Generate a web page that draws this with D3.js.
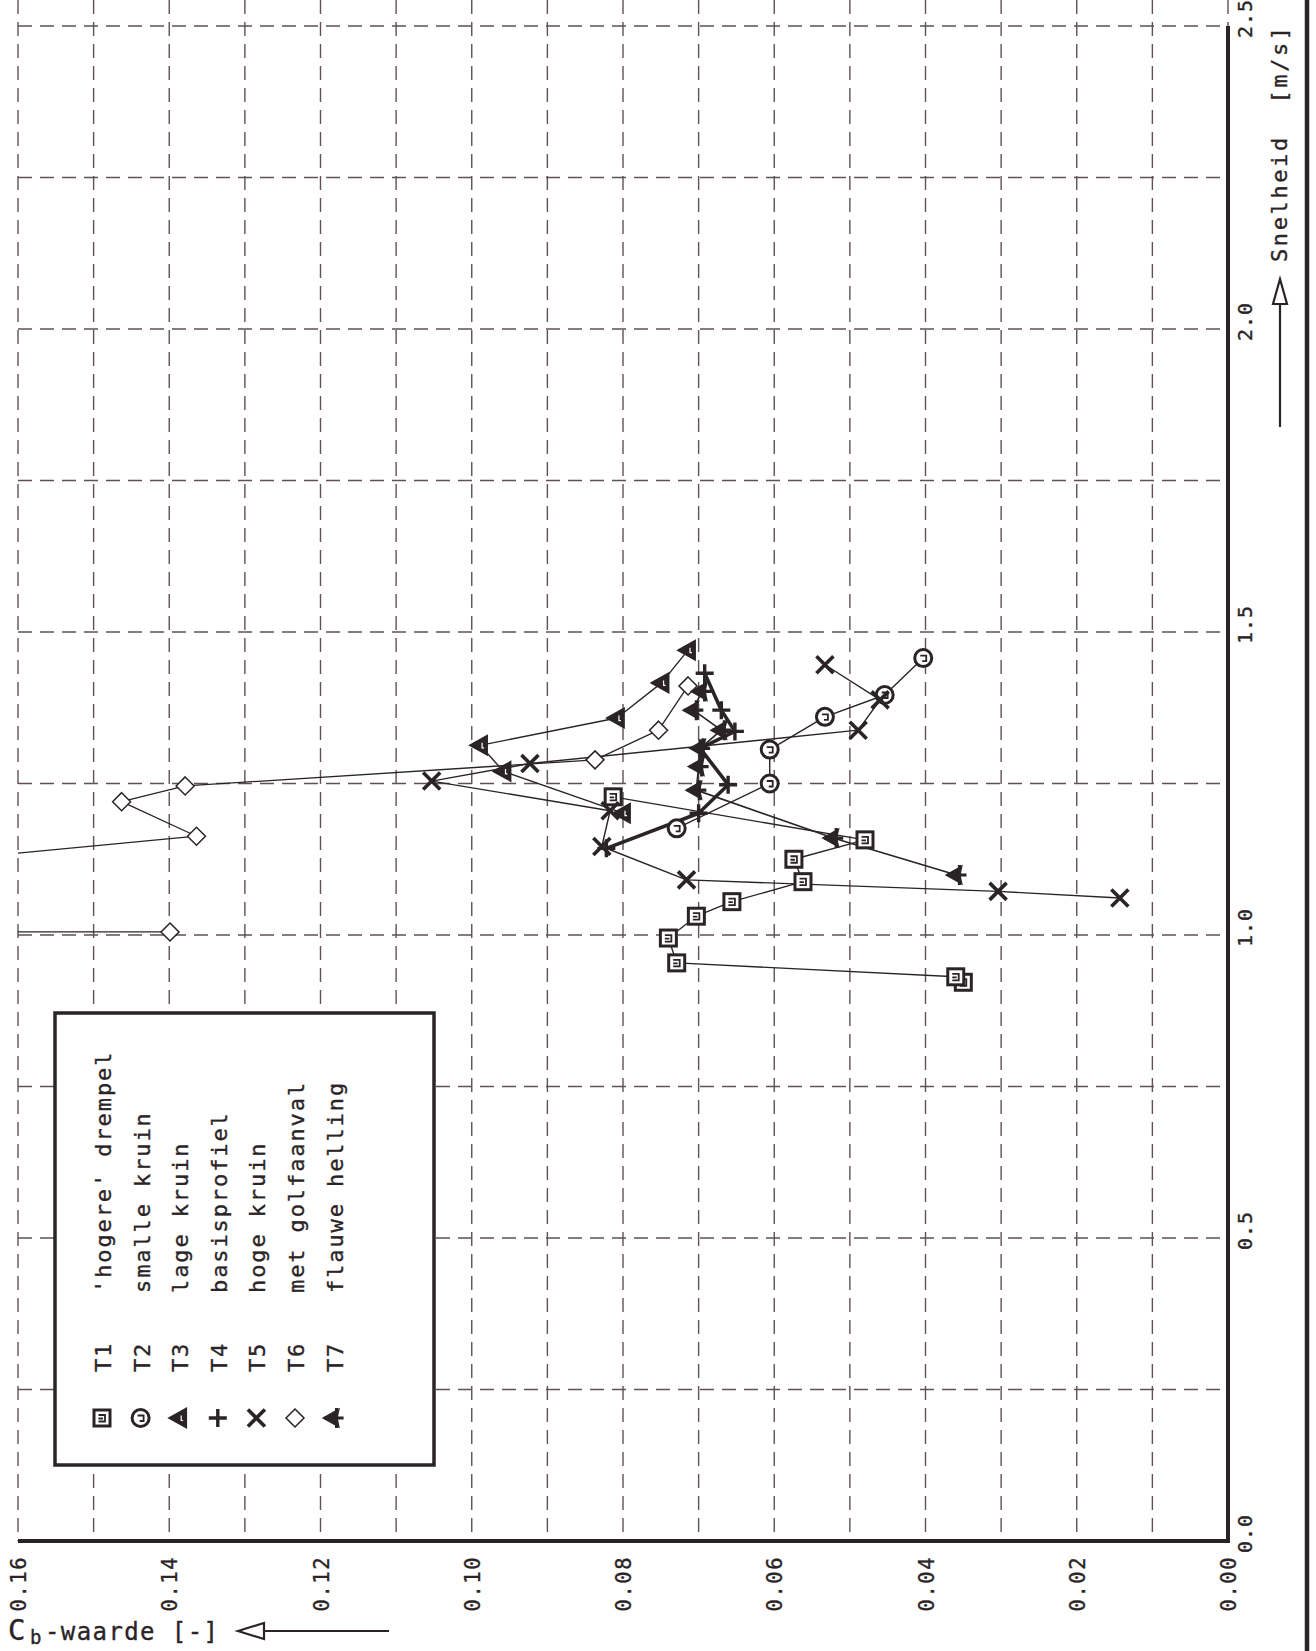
<!DOCTYPE html>
<html>
<head>
<meta charset="utf-8">
<script src="https://cdn.jsdelivr.net/npm/d3@7"></script>
<style>
  body { margin: 0; background: #fff; }
  svg { display: block; }
  text { font-family: "DejaVu Sans Mono", "Liberation Mono", monospace; fill: #2b2427;
         stroke: #2b2427; stroke-width: 0.35; }
</style>
</head>
<body>
<svg id="chart" width="1316" height="1651"></svg>
<script>
// Series identifiers and descriptions
const seriesIds = ["T1", "T2", "T3", "T4", "T5", "T6", "T7"];
const seriesLabels = ["'hogere' drempel", "smalle kruin", "lage kruin", "basisprofiel",
                      "hoge kruin", "met golfaanval", "flauwe helling"];

// Measured points per test: speed [m/s] and Cb value [-]
const t1Speed = [0.922, 0.931, 0.954, 0.995, 1.031, 1.055, 1.088, 1.125, 1.157, 1.228];
const t1Cb    = [0.0350, 0.0360, 0.0729, 0.0740, 0.0703, 0.0656, 0.0562, 0.0574, 0.0480, 0.0813];

const t2Speed = [1.176, 1.250, 1.306, 1.360, 1.396, 1.457];
const t2Cb    = [0.0729, 0.0606, 0.0606, 0.0533, 0.0454, 0.0403];

const t3Speed = [1.201, 1.270, 1.313, 1.358, 1.416, 1.470];
const t3Cb    = [0.0800, 0.0958, 0.0989, 0.0808, 0.0749, 0.0714];

const t4Speed = [1.143, 1.201, 1.248, 1.308, 1.336, 1.371, 1.432];
const t4Cb    = [0.0822, 0.0700, 0.0661, 0.0698, 0.0652, 0.0670, 0.0692];

const t5Speed = [1.061, 1.072, 1.091, 1.146, 1.205, 1.254, 1.283, 1.338, 1.388, 1.446];
const t5Cb    = [0.0143, 0.0304, 0.0716, 0.0828, 0.0817, 0.1053, 0.0923, 0.0489, 0.0460, 0.0533];

const t6Speed = [1.005, 1.005, 1.163, 1.220, 1.246, 1.289, 1.338, 1.411];
const t6Cb    = [0.1399, 0.270, 0.1364, 0.1463, 0.1379, 0.0837, 0.0753, 0.0714];

const t7Speed = [1.099, 1.160, 1.239, 1.278, 1.308, 1.338, 1.371, 1.402];
const t7Cb    = [0.0359, 0.0522, 0.0703, 0.0700, 0.0698, 0.0670, 0.0707, 0.0696];

// Axis ticks
const cbLabelTicks = [0.16, 0.14, 0.12, 0.10, 0.08, 0.06, 0.04, 0.02, 0.00];
const cbGridTicks = d3.range(0, 17).map(i => i / 100);
const speedLabelTicks = [0.0, 0.5, 1.0, 1.5, 2.0, 2.5];
const speedGridTicks = d3.range(1, 11).map(i => i * 0.25);

const ink = "#2b2427";
const gridInk = "#5f5156";

const svg = d3.select("#chart");

// Cb runs right-to-left along the bottom, speed runs upward along the right side
const x = d3.scaleLinear().domain([0.16, 0]).range([18, 1228]);
const y = d3.scaleLinear().domain([0, 2.5]).range([1541, 26]);

// Dashed grid
const grid = svg.append("g")
  .attr("stroke", gridInk).attr("stroke-width", 1.4).attr("stroke-dasharray", "14,8");
grid.selectAll("line.v").data(cbGridTicks).join("line")
  .attr("x1", d => x(d)).attr("x2", d => x(d))
  .attr("y1", 0).attr("y2", y(0));
grid.selectAll("line.h").data(speedGridTicks).join("line")
  .attr("x1", x(0.16)).attr("x2", x(0))
  .attr("y1", d => y(d)).attr("y2", d => y(d));

// Legend box (white, hides grid underneath)
const legend = svg.append("g");
legend.append("rect")
  .attr("x", 55).attr("y", 1013).attr("width", 379).attr("height", 452)
  .attr("fill", "#fff").attr("stroke", ink).attr("stroke-width", 3.5);

// Marker shapes
function drawMarker(g, id) {
  const s = g.append("g");
  switch (id) {
    case "T1":
      s.append("rect").attr("x", -8).attr("y", -8).attr("width", 16).attr("height", 16)
        .attr("fill", "#fff").attr("stroke", ink).attr("stroke-width", 3);
      s.append("path").attr("d", "M-3.5,-3 H3 V3.5 H-3.5 M-3.5,0.5 H1")
        .attr("fill", "none").attr("stroke", ink).attr("stroke-width", 1.8);
      break;
    case "T2":
      s.append("circle").attr("r", 8.5)
        .attr("fill", "#fff").attr("stroke", ink).attr("stroke-width", 3);
      s.append("path").attr("d", "M-3,-2.5 H3 V3 H-1")
        .attr("fill", "none").attr("stroke", ink).attr("stroke-width", 1.8);
      break;
    case "T3":
      s.append("path").attr("d", "M-10,0 L7,-9.5 L7,9.5 Z")
        .attr("fill", ink).attr("stroke", ink).attr("stroke-width", 1.8);
      s.append("path").attr("d", "M2,-2.5 V2.5 H4")
        .attr("fill", "none").attr("stroke", "#fff").attr("stroke-width", 1.2);
      break;
    case "T4":
      s.append("path").attr("d", "M-9,0 H9 M0,-9 V9")
        .attr("stroke", ink).attr("stroke-width", 3.4);
      break;
    case "T5":
      s.append("path").attr("d", "M-8.5,-8.5 L8.5,8.5 M-8.5,8.5 L8.5,-8.5")
        .attr("stroke", ink).attr("stroke-width", 3.6);
      break;
    case "T6":
      s.append("path").attr("d", "M0,-9 L9,0 L0,9 L-9,0 Z")
        .attr("fill", "#fff").attr("stroke", ink).attr("stroke-width", 1.5);
      break;
    case "T7":
      s.append("path").attr("d", "M-10,0 L5,-8.5 L3,0 L5,8.5 Z")
        .attr("fill", ink).attr("stroke", ink).attr("stroke-width", 1.8);
      s.append("path").attr("d", "M-9,0 H10 M3,-10 V10")
        .attr("stroke", ink).attr("stroke-width", 3.2);
      break;
  }
  return s;
}

// Data layer, clipped to the plot frame
svg.append("defs").append("clipPath").attr("id", "plotClip")
  .append("rect").attr("x", x(0.16)).attr("y", 0)
  .attr("width", x(0) - x(0.16)).attr("height", y(0));

const seriesData = [
  { id: "T1", speed: t1Speed, cb: t1Cb, width: 1.4 },
  { id: "T2", speed: t2Speed, cb: t2Cb, width: 1.4 },
  { id: "T3", speed: t3Speed, cb: t3Cb, width: 1.4 },
  { id: "T4", speed: t4Speed, cb: t4Cb, width: 3.6 },
  { id: "T5", speed: t5Speed, cb: t5Cb, width: 1.4 },
  { id: "T6", speed: t6Speed, cb: t6Cb, width: 1.3 },
  { id: "T7", speed: t7Speed, cb: t7Cb, width: 1.7 }
].map(s => ({ ...s, points: s.speed.map((v, i) => ({ v, c: s.cb[i] })) }));

const plot = svg.append("g").attr("clip-path", "url(#plotClip)");
const line = d3.line().x(p => x(p.c)).y(p => y(p.v));

seriesData.forEach(s => {
  plot.append("path").datum(s.points).attr("d", line)
    .attr("fill", "none").attr("stroke", ink).attr("stroke-width", s.width)
    .attr("stroke-linejoin", "round");
});
seriesData.forEach(s => {
  s.points.filter(p => p.c <= 0.16).forEach(p => {
    const g = plot.append("g").attr("transform", `translate(${x(p.c)},${y(p.v)})`);
    drawMarker(g, s.id);
  });
});

// Axis lines and outer frame
svg.append("line").attr("x1", x(0.16)).attr("x2", x(0) + 2).attr("y1", y(0)).attr("y2", y(0))
  .attr("stroke", ink).attr("stroke-width", 4);
svg.append("line").attr("x1", x(0)).attr("x2", x(0)).attr("y1", y(2.5)).attr("y2", y(0) + 2)
  .attr("stroke", ink).attr("stroke-width", 4);
svg.append("line").attr("x1", 1307).attr("x2", 1307).attr("y1", 0).attr("y2", 1651)
  .attr("stroke", ink).attr("stroke-width", 4.5);

// Cb tick labels (rotated)
svg.append("g").selectAll("text").data(cbLabelTicks).join("text")
  .attr("transform", d => `translate(${x(d) + 8},${1556}) rotate(-90)`)
  .attr("text-anchor", "end")
  .attr("font-size", 20.5).attr("letter-spacing", 1.5)
  .text(d => d.toFixed(2));

// Speed tick labels (rotated)
svg.append("g").selectAll("text").data(speedLabelTicks).join("text")
  .attr("transform", d => `translate(1252,${y(d) + 12}) rotate(-90)`)
  .attr("text-anchor", "start")
  .attr("font-size", 20).attr("letter-spacing", 1)
  .text(d => d.toFixed(1));

// Speed axis title with arrow
svg.append("text")
  .attr("transform", "translate(1287,262) rotate(-90)")
  .attr("font-size", 22).attr("letter-spacing", 2.6)
  .attr("xml:space", "preserve").style("white-space", "pre")
  .text("Snelheid  [m/s]");
svg.append("line").attr("x1", 1280).attr("x2", 1280).attr("y1", 427).attr("y2", 304)
  .attr("stroke", ink).attr("stroke-width", 2.2);
svg.append("path").attr("d", "M1280,279 L1287,304 L1273,304 Z")
  .attr("fill", "#fff").attr("stroke", ink).attr("stroke-width", 2.2);

// Cb axis title with arrow
const cbTitle = svg.append("text").attr("y", 1640).attr("font-size", 24);
cbTitle.append("tspan").attr("x", 8).attr("font-size", 29).text("C");
cbTitle.append("tspan").attr("x", 30).attr("dy", 4).attr("font-size", 19).text("b");
cbTitle.append("tspan").attr("x", 45).attr("dy", -4).attr("letter-spacing", 1.4)
  .attr("xml:space", "preserve").style("white-space", "pre").text("-waarde [-]");
svg.append("line").attr("x1", 264).attr("x2", 389).attr("y1", 1631).attr("y2", 1631)
  .attr("stroke", ink).attr("stroke-width", 2.2);
svg.append("path").attr("d", "M238,1631 L264,1623 L264,1639 Z")
  .attr("fill", "#fff").attr("stroke", ink).attr("stroke-width", 2.2);

// Legend entries, one rotated column per test
seriesIds.forEach((id, i) => {
  const cx = 102 + i * 38.6;
  const g = legend.append("g").attr("transform", `translate(${cx},1418)`);
  drawMarker(g, id);
  legend.append("text")
    .attr("transform", `translate(${cx + 9},1372) rotate(-90)`)
    .attr("font-size", 22).attr("letter-spacing", 1.8)
    .text(id);
  legend.append("text")
    .attr("transform", `translate(${cx + 9},1293) rotate(-90)`)
    .attr("font-size", 22).attr("letter-spacing", 1.9)
    .attr("xml:space", "preserve").style("white-space", "pre")
    .text(seriesLabels[i]);
});
</script>
</body>
</html>
